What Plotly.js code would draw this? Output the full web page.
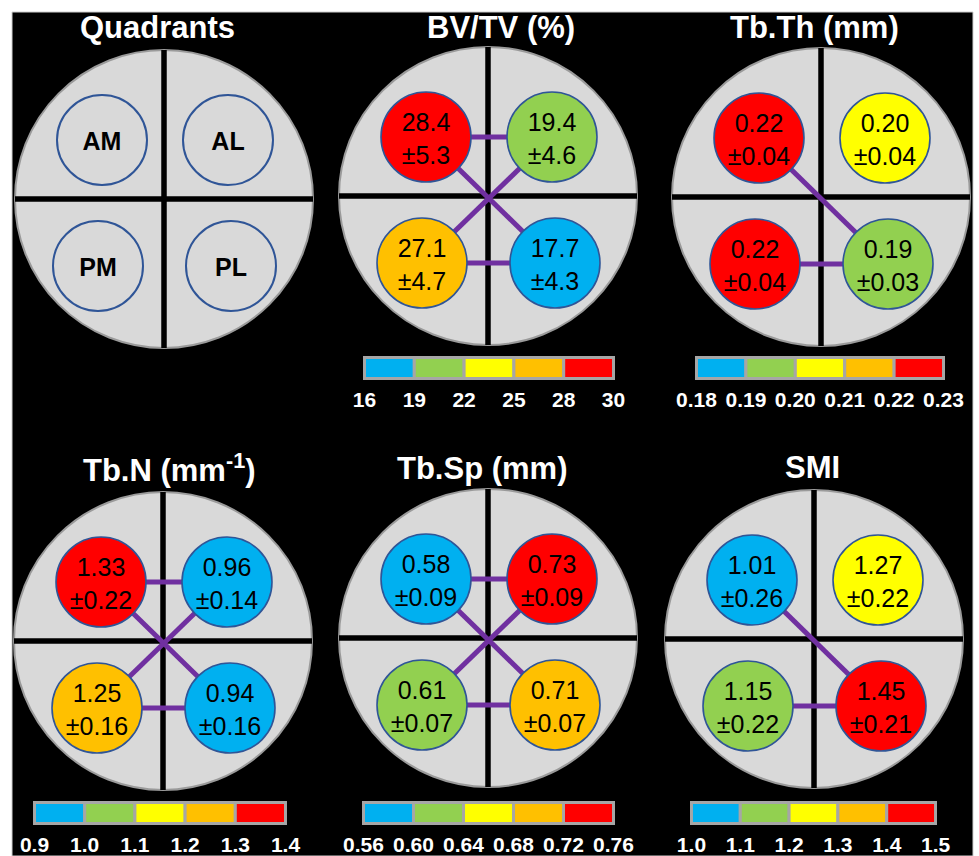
<!DOCTYPE html>
<html>
<head>
<meta charset="utf-8">
<script src="https://cdn.plot.ly/plotly-3.0.1.min.js"></script>
<style>html,body{margin:0;padding:0;background:#fff;}#chart{width:979px;height:856px;}</style>
</head>
<body>
<div id="chart"></div>
<script>
// ---------------- DATA ----------------
const QUADRANTS = ['AM', 'AL', 'PM', 'PL'];
const BIN_COLORS = ['#00b0f0', '#92d050', '#ffff00', '#ffc000', '#ff0000'];

const METRIC_TITLES = ['BV/TV (%)', 'Tb.Th (mm)', 'Tb.N (mm<sup>-1</sup>)', 'Tb.Sp (mm)', 'SMI'];

const bvtv_mean = [28.4, 19.4, 27.1, 17.7];
const bvtv_sd   = [5.3, 4.6, 4.7, 4.3];
const bvtv_edges = ['16', '19', '22', '25', '28', '30'];

const tbth_mean = [0.22, 0.20, 0.22, 0.19];
const tbth_sd   = [0.04, 0.04, 0.04, 0.03];
const tbth_edges = ['0.18', '0.19', '0.20', '0.21', '0.22', '0.23'];

const tbn_mean = [1.33, 0.96, 1.25, 0.94];
const tbn_sd   = [0.22, 0.14, 0.16, 0.16];
const tbn_edges = ['0.9', '1.0', '1.1', '1.2', '1.3', '1.4'];

const tbsp_mean = [0.58, 0.73, 0.61, 0.71];
const tbsp_sd   = [0.09, 0.09, 0.07, 0.07];
const tbsp_edges = ['0.56', '0.60', '0.64', '0.68', '0.72', '0.76'];

const smi_mean = [1.01, 1.27, 1.15, 1.45];
const smi_sd   = [0.26, 0.22, 0.22, 0.21];
const smi_edges = ['1.0', '1.1', '1.2', '1.3', '1.4', '1.5'];

const DECIMALS = [1, 2, 2, 2, 2];

// significant differences between quadrants (purple connectors)
const bvtv_links = [['AM', 'AL'], ['PM', 'PL'], ['AM', 'PL'], ['AL', 'PM']];
const tbth_links = [['AM', 'PL'], ['PM', 'PL']];
const tbn_links  = [['AM', 'AL'], ['PM', 'PL'], ['AM', 'PL'], ['AL', 'PM']];
const tbsp_links = [['AM', 'AL'], ['PM', 'PL'], ['AM', 'PL'], ['AL', 'PM']];
const smi_links  = [['AM', 'PL'], ['PM', 'PL']];

const METRICS = [
  {mean: bvtv_mean, sd: bvtv_sd, edges: bvtv_edges, links: bvtv_links},
  {mean: tbth_mean, sd: tbth_sd, edges: tbth_edges, links: tbth_links},
  {mean: tbn_mean,  sd: tbn_sd,  edges: tbn_edges,  links: tbn_links},
  {mean: tbsp_mean, sd: tbsp_sd, edges: tbsp_edges, links: tbsp_links},
  {mean: smi_mean,  sd: smi_sd,  edges: smi_edges,  links: smi_links}
];

// ---------------- LAYOUT GEOMETRY (pixels) ----------------
const W = 979, H = 856;
const FONT = 'Arial, "Liberation Sans", sans-serif';
const R = 149, HALF = 155;
const TEXT_DY = -4;   // nudge of in-circle text (px, data units = px)
// quadrant circle offsets inside a disc (x right, y up)
const QPOS = {AM: [-62, 59], AL: [64, 59], PM: [-66, -67], PL: [67, -67]};

const PANELS = [
  {cx: 164, cy: 199, tx: 157, ty: 28},
  {cx: 488, cy: 196, tx: 501, ty: 28,  bar: [363, 615, 356, 380]},
  {cx: 821, cy: 197, tx: 814, ty: 28,  bar: [695, 945, 356, 380]},
  {cx: 163, cy: 641, tx: 169, ty: 468, bar: [33, 287, 801, 825]},
  {cx: 488, cy: 638, tx: 482, ty: 469, bar: [362, 615, 801, 825]},
  {cx: 814, cy: 639, tx: 812, ty: 467, bar: [690, 937, 801, 825]}
];

const fx = p => p / W;
const fy = p => 1 - p / H;

function binIndex(v, edges) {
  let idx = 0;
  for (let i = 0; i < 5; i++) if (v >= parseFloat(edges[i]) - 1e-9) idx = i;
  return idx;
}

const traces = [];
const shapes = [];
const annotations = [];
const layout = {
  width: W, height: H,
  margin: {l: 0, r: 0, t: 0, b: 0},
  paper_bgcolor: '#ffffff',
  plot_bgcolor: 'rgba(0,0,0,0)',
  showlegend: false,
  font: {family: FONT}
};

// black background
shapes.push({type: 'rect', xref: 'paper', yref: 'paper', x0: fx(12), x1: fx(973), y0: 0, y1: fy(12),
  fillcolor: '#000000', line: {color: '#cfcfcf', width: 1}, layer: 'below'});

PANELS.forEach((p, k) => {
  const n = k + 1;
  const xa = n === 1 ? 'x' : 'x' + n;
  const ya = n === 1 ? 'y' : 'y' + n;
  layout['xaxis' + (n === 1 ? '' : n)] = {domain: [fx(p.cx - HALF), fx(p.cx + HALF)], range: [-HALF, HALF],
    visible: false, fixedrange: true, anchor: ya};
  layout['yaxis' + (n === 1 ? '' : n)] = {domain: [fy(p.cy + HALF), fy(p.cy - HALF)], range: [-HALF, HALF],
    visible: false, fixedrange: true, anchor: xa};

  shapes.push({type: 'circle', xref: xa, yref: ya, x0: -R, x1: R, y0: -R, y1: R,
    fillcolor: '#d9d9d9', line: {color: '#9a9a9a', width: 2}, layer: 'below'});
  shapes.push({type: 'line', xref: xa, yref: ya, x0: 0, x1: 0, y0: -R, y1: R,
    line: {color: '#000000', width: 5.5}, layer: 'below'});
  shapes.push({type: 'line', xref: xa, yref: ya, x0: -R, x1: R, y0: 0, y1: 0,
    line: {color: '#000000', width: 5.5}, layer: 'below'});

  const qx = QUADRANTS.map(q => QPOS[q][0]);
  const qy = QUADRANTS.map(q => QPOS[q][1]);
  const ty = qy.map(v => v + TEXT_DY);

  if (k === 0) {
    annotations.push({xref: 'paper', yref: 'paper', x: fx(p.tx), y: fy(p.ty), xanchor: 'center', yanchor: 'middle',
      text: '<b>Quadrants</b>', showarrow: false, font: {size: 31, color: '#ffffff', family: FONT}});
    traces.push({type: 'scatter', mode: 'markers', x: qx, y: qy, xaxis: xa, yaxis: ya, hoverinfo: 'skip',
      marker: {size: 90, color: 'rgba(0,0,0,0)', line: {color: '#2f5597', width: 2}}});
    traces.push({type: 'scatter', mode: 'text', x: qx, y: ty, xaxis: xa, yaxis: ya,
      text: QUADRANTS, textposition: 'middle center', cliponaxis: false, hoverinfo: 'skip',
      textfont: {size: 25, color: '#000000', family: FONT, weight: 'bold'}});
    return;
  }

  const m = METRICS[k - 1];
  const d = DECIMALS[k - 1];
  annotations.push({xref: 'paper', yref: 'paper', x: fx(p.tx), y: fy(p.ty), xanchor: 'center', yanchor: 'middle',
    text: '<b>' + METRIC_TITLES[k - 1] + '</b>', showarrow: false, font: {size: 31, color: '#ffffff', family: FONT}});

  // connectors
  const lx = [], ly = [];
  m.links.forEach(([a, b]) => {
    lx.push(QPOS[a][0], QPOS[b][0], null);
    ly.push(QPOS[a][1], QPOS[b][1], null);
  });
  traces.push({type: 'scatter', mode: 'lines', x: lx, y: ly, xaxis: xa, yaxis: ya, hoverinfo: 'skip',
    line: {color: '#7030a0', width: 5}, connectgaps: false});

  // quadrant value circles
  traces.push({type: 'scatter', mode: 'markers', x: qx, y: qy, xaxis: xa, yaxis: ya, hoverinfo: 'skip',
    marker: {size: 90, color: m.mean.map(v => BIN_COLORS[binIndex(v, m.edges)]),
      line: {color: '#2f5597', width: 1.6}}});
  traces.push({type: 'scatter', mode: 'text', x: qx, y: ty, xaxis: xa, yaxis: ya,
    text: m.mean.map((v, i) => v.toFixed(d) + '<br>±' + m.sd[i].toFixed(d)),
    textposition: 'middle center', cliponaxis: false, hoverinfo: 'skip',
    textfont: {size: 25, color: '#000000', family: FONT}});

  // colour key
  const cn = 6 + k;
  const cxa = 'x' + cn, cya = 'y' + cn;
  const [bx0, bx1, by0, by1] = p.bar;
  layout['xaxis' + cn] = {domain: [fx(bx0), fx(bx1)], range: [-0.03, 5.03], anchor: cya, fixedrange: true,
    showgrid: false, zeroline: false, showline: false, ticks: '', ticklabelstandoff: 5,
    tickmode: 'array', tickvals: [0, 1, 2, 3, 4, 5], ticktext: m.edges,
    tickfont: {size: 21, color: '#ffffff', family: FONT, weight: 'bold'}};
  layout['yaxis' + cn] = {domain: [fy(by1), fy(by0)], range: [-0.065, 1.065], anchor: cxa,
    visible: false, fixedrange: true};
  traces.push({type: 'bar', x: [0.5, 1.5, 2.5, 3.5, 4.5], y: [1, 1, 1, 1, 1], width: 1,
    xaxis: cxa, yaxis: cya, hoverinfo: 'skip',
    marker: {color: BIN_COLORS, line: {color: '#a6a6a6', width: 3}}});
});

layout.shapes = shapes;
layout.annotations = annotations;

Plotly.newPlot('chart', traces, layout, {staticPlot: true, displayModeBar: false});
</script>
</body>
</html>
